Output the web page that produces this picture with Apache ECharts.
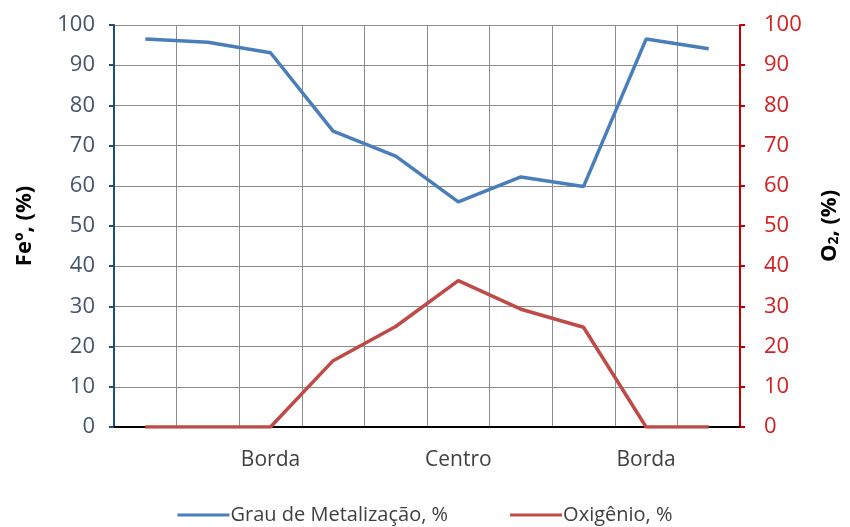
<!DOCTYPE html>
<html>
<head>
<meta charset="utf-8">
<script src="https://cdn.jsdelivr.net/npm/echarts@6/dist/echarts.min.js"></script>
<style>
  html, body { margin: 0; padding: 0; background: #fff; }
  #chart { width: 850px; height: 527px; }
</style>
</head>
<body>
<div id="chart"></div>
<script>
// Sample positions across the pellet section
const positions = ['1', '2', '3', '4', '5', '6', '7', '8', '9', '10'];
const positionLabels = ['', '', 'Borda', '', '', 'Centro', '', '', 'Borda', ''];

// Degree of metallization (Feº, %) and oxygen (O2, %)
const metalizacao = [96.5, 95.7, 93.1, 73.6, 67.4, 56.0, 62.2, 59.8, 96.5, 94.1];
const oxigenio = [0, 0, 0, 16.5, 25.0, 36.4, 29.3, 24.8, 0, 0];

const seriesNames = ['Grau de Metalização, %', 'Oxigênio, %'];
const yTicks = { min: 0, max: 100, interval: 10 };

const FONT = '"Open Sans", Lato, sans-serif';
const BLUE = '#4A7EBB';
const RED = '#BE4B48';

const chart = echarts.init(document.getElementById('chart'), null, { renderer: 'canvas' });

chart.setOption({
  animation: false,
  backgroundColor: '#ffffff',
  grid: { left: 114, right: 110, top: 25, bottom: 100 },
  legend: {
    top: 500,
    left: 'center',
    itemWidth: 52,
    itemHeight: 3,
    itemGap: 62,
    icon: 'rect',
    textStyle: { fontFamily: FONT, fontSize: 20, color: '#404040', padding: [0, 0, 0, -4] },
    data: seriesNames
  },
  xAxis: {
    type: 'category',
    data: positions,
    boundaryGap: true,
    axisLine: { show: true, lineStyle: { color: '#000', width: 2 } },
    axisTick: { show: false },
    axisLabel: {
      interval: 0,
      margin: 23,
      fontFamily: FONT,
      fontSize: 21,
      color: '#404040',
      formatter: (v, i) => positionLabels[i]
    },
    splitLine: { show: true, interval: 0, lineStyle: { color: '#8c8c8c', width: 1 } }
  },
  yAxis: [
    {
      type: 'value',
      position: 'left',
      min: yTicks.min, max: yTicks.max, interval: yTicks.interval,
      name: 'Feº, (%)',
      nameLocation: 'middle',
      nameRotate: 90,
      nameGap: 78,
      nameTextStyle: { fontFamily: FONT, fontSize: 22, fontWeight: 'bold', color: '#000' },
      axisLine: { show: true, onZero: false, lineStyle: { color: '#1F4E79', width: 2 } },
      axisTick: { show: true, length: 5, lineStyle: { color: '#1F4E79', width: 2 } },
      axisLabel: { fontFamily: FONT, fontSize: 22, color: '#44546A', margin: 19 },
      splitLine: { show: true, lineStyle: { color: '#8c8c8c', width: 1 } }
    },
    {
      type: 'value',
      position: 'right',
      min: yTicks.min, max: yTicks.max, interval: yTicks.interval,
      name: 'O{sub|2}, (%)',
      nameLocation: 'middle',
      nameRotate: 90,
      nameGap: 78,
      nameTextStyle: {
        fontFamily: FONT, fontSize: 22, fontWeight: 'bold', color: '#000',
        rich: { sub: { fontFamily: FONT, fontSize: 14, fontWeight: 'bold', color: '#000', verticalAlign: 'bottom', padding: [9, 0, 0, 0] } }
      },
      axisLine: { show: true, onZero: false, lineStyle: { color: '#C00000', width: 2 } },
      axisTick: { show: true, length: 5, lineStyle: { color: '#C00000', width: 2 } },
      axisLabel: { fontFamily: FONT, fontSize: 22, color: '#D42020', margin: 24 },
      splitLine: { show: false }
    }
  ],
  series: [
    {
      name: seriesNames[0],
      type: 'line',
      yAxisIndex: 0,
      data: metalizacao,
      symbol: 'none',
      lineStyle: { color: BLUE, width: 3.5 },
      itemStyle: { color: BLUE }
    },
    {
      name: seriesNames[1],
      type: 'line',
      yAxisIndex: 1,
      data: oxigenio,
      symbol: 'none',
      lineStyle: { color: RED, width: 3.5 },
      itemStyle: { color: RED }
    }
  ]
});
</script>
</body>
</html>
